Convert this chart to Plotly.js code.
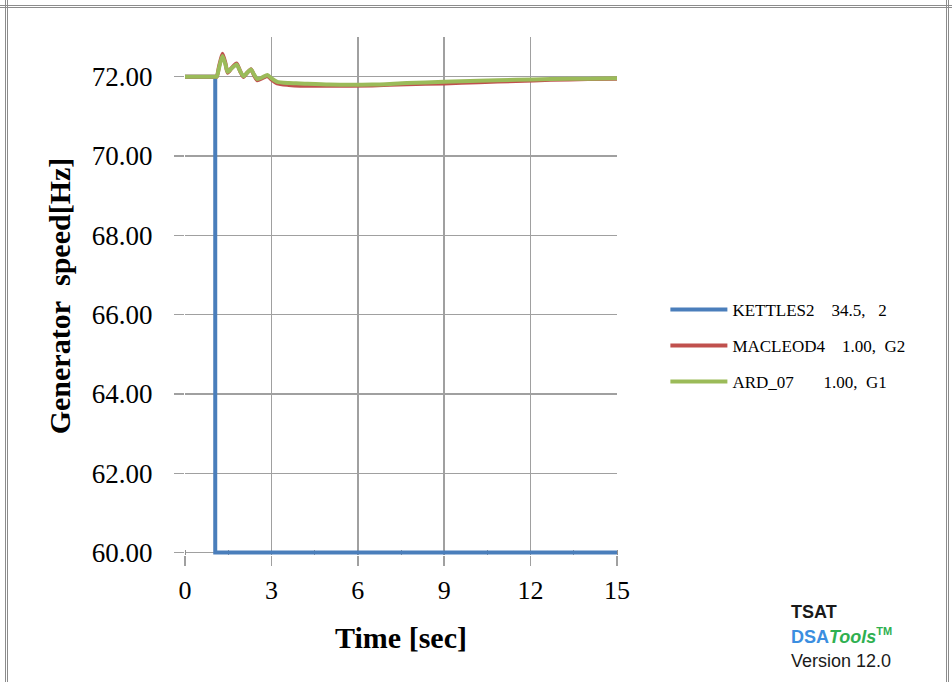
<!DOCTYPE html>
<html>
<head>
<meta charset="utf-8">
<script src="https://cdn.plot.ly/plotly-3.0.1.min.js"></script>
<style>
  html, body { margin: 0; padding: 0; background: #fff; }
  #wrap { position: relative; width: 952px; height: 682px; overflow: hidden; }
  #chart { position: absolute; left: 0; top: 0; width: 952px; height: 682px; }
  .frameH { position: absolute; left: 0; top: 5px; width: 952px; height: 0; border-top: 3px double #8c8c8c; pointer-events: none; }
  .frameL { position: absolute; left: 5px; top: 0; width: 0; height: 682px; border-left: 3px double #8c8c8c; pointer-events: none; }
  .frameR { position: absolute; left: 946px; top: 0; width: 0; height: 682px; border-left: 3px double #8c8c8c; pointer-events: none; }
</style>
</head>
<body>
<div id="wrap">
  <div id="chart"></div>
  <div class="frameH"></div>
  <div class="frameL"></div>
  <div class="frameR"></div>
</div>
<script>
// ---- data ----
const seriesNames = [
  "KETTLES2\u00a0\u00a0\u00a0 34.5,\u00a0\u00a0 2",
  "MACLEOD4\u00a0\u00a0\u00a0 1.00,\u00a0 G2",
  "ARD_07\u00a0\u00a0\u00a0\u00a0\u00a0\u00a0 1.00,\u00a0 G1"
];

const kettlesTime  = [0, 1.05, 1.05, 15];
const kettlesSpeed = [72.0, 72.0, 60.0, 60.0];

const macleodTime  = [0, 1.0, 1.1, 1.18, 1.3, 1.4, 1.48, 1.62, 1.79, 1.92, 2.03, 2.16, 2.29, 2.4, 2.51, 2.68, 2.86, 3.0, 3.2, 3.6, 4.0, 5.0, 6.5, 7.7, 9.0, 10.2, 11.5, 12.7, 14, 15];
const macleodSpeed = [72.0, 72.0, 72.0, 72.25, 72.58, 72.35, 72.1, 72.22, 72.33, 72.13, 71.99, 72.1, 72.19, 72.03, 71.91, 71.96, 72.02, 71.93, 71.83, 71.79, 71.77, 71.77, 71.78, 71.81, 71.83, 71.86, 71.89, 71.92, 71.94, 71.95];

const ardTime  = [0, 1.0, 1.1, 1.18, 1.3, 1.4, 1.48, 1.62, 1.79, 1.92, 2.03, 2.16, 2.29, 2.4, 2.51, 2.68, 2.86, 3.0, 3.2, 3.6, 4.0, 5.0, 6.5, 7.7, 9.0, 10.2, 11.5, 12.7, 14, 15];
const ardSpeed = [72.0, 72.0, 72.0, 72.22, 72.52, 72.32, 72.12, 72.21, 72.31, 72.13, 72.01, 72.1, 72.18, 72.05, 71.94, 71.98, 72.04, 71.96, 71.87, 71.84, 71.83, 71.80, 71.80, 71.84, 71.87, 71.90, 71.92, 71.94, 71.95, 71.96];

const xTickVals = [0, 3, 6, 9, 12, 15];
const yTickVals = [60, 62, 64, 66, 68, 70, 72];

const colors = ["#4a7ebb", "#c0504d", "#9bbb59"];

// ---- traces ----
const traces = [
  { x: kettlesTime, y: kettlesSpeed, name: seriesNames[0], legendgroup: "a", mode: "lines",
    line: { color: colors[0], width: 4 } },
  { x: macleodTime, y: macleodSpeed, name: seriesNames[1], legendgroup: "b", mode: "lines",
    line: { color: colors[1], width: 4, shape: "spline", smoothing: 0.6 } },
  { x: ardTime, y: ardSpeed, name: seriesNames[2], legendgroup: "c", mode: "lines",
    line: { color: colors[2], width: 4, shape: "spline", smoothing: 0.6 } }
];

const serif = "Liberation Serif, Times New Roman, serif";
const sans = "Liberation Sans, Arial, sans-serif";

const layout = {
  width: 952, height: 682,
  margin: { l: 185, r: 335, t: 37, b: 127 },
  paper_bgcolor: "rgba(0,0,0,0)",
  plot_bgcolor: "#ffffff",
  showlegend: true,
  legend: {
    x: 1.112, xanchor: "left", y: 0.508, yanchor: "top",
    font: { family: serif, size: 17, color: "#000" },
    bgcolor: "rgba(0,0,0,0)",
    itemwidth: 57,
    traceorder: "grouped", tracegroupgap: 11
  },
  xaxis: {
    range: [0, 15], tickvals: xTickVals, ticktext: xTickVals.map(String),
    showgrid: true, gridcolor: "#a0a0a0", gridwidth: 1.5,
    zeroline: false, showline: false,
    ticks: "outside", ticklen: 10, tickcolor: "#a0a0a0", tickwidth: 1.5,
    ticklabelstandoff: 2,
    tickfont: { family: serif, size: 26, color: "#000" },
    minor: { dtick: 1.5, ticks: "inside", ticklen: 5, tickcolor: "#909090", tickwidth: 1, showgrid: false },
    title: { text: "<b>Time [sec]</b>", font: { family: serif, size: 30, color: "#000" }, standoff: 22 },
    layer: "below traces"
  },
  yaxis: {
    range: [59.94, 73], tickvals: yTickVals, ticktext: yTickVals.map(v => v.toFixed(2)),
    showgrid: true, gridcolor: "#a0a0a0", gridwidth: 1.5,
    zeroline: false, showline: false,
    ticks: "outside", ticklen: 10, tickcolor: "#a0a0a0", tickwidth: 1.5,
    ticklabelstandoff: 16,
    tickfont: { family: serif, size: 27, color: "#000" },
    title: { text: "<b>Generator\u00a0 speed[Hz]</b>", font: { family: serif, size: 30, color: "#000" }, standoff: 12 },
    layer: "below traces"
  },
  annotations: [
    { xref: "paper", yref: "paper", x: 1.398, y: -0.111, xanchor: "left", yanchor: "middle", showarrow: false,
      text: "<b>TSAT</b>", font: { family: sans, size: 18, color: "#1a1a1a" } },
    { xref: "paper", yref: "paper", x: 1.398, y: -0.157, xanchor: "left", yanchor: "middle", showarrow: false,
      text: "<b><span style='color:#3b8ee0'>DSA</span><i><span style='color:#2fb050'>Tools</span></i></b><sup><b><span style='color:#2fb050;font-size:11px'>TM</span></b></sup>",
      font: { family: sans, size: 18, color: "#3b8ee0" } },
    { xref: "paper", yref: "paper", x: 1.398, y: -0.204, xanchor: "left", yanchor: "middle", showarrow: false,
      text: "Version 12.0", font: { family: sans, size: 18, color: "#1a1a1a" } }
  ]
};

Plotly.newPlot("chart", traces, layout, { displayModeBar: false, staticPlot: true });
</script>
</body>
</html>
